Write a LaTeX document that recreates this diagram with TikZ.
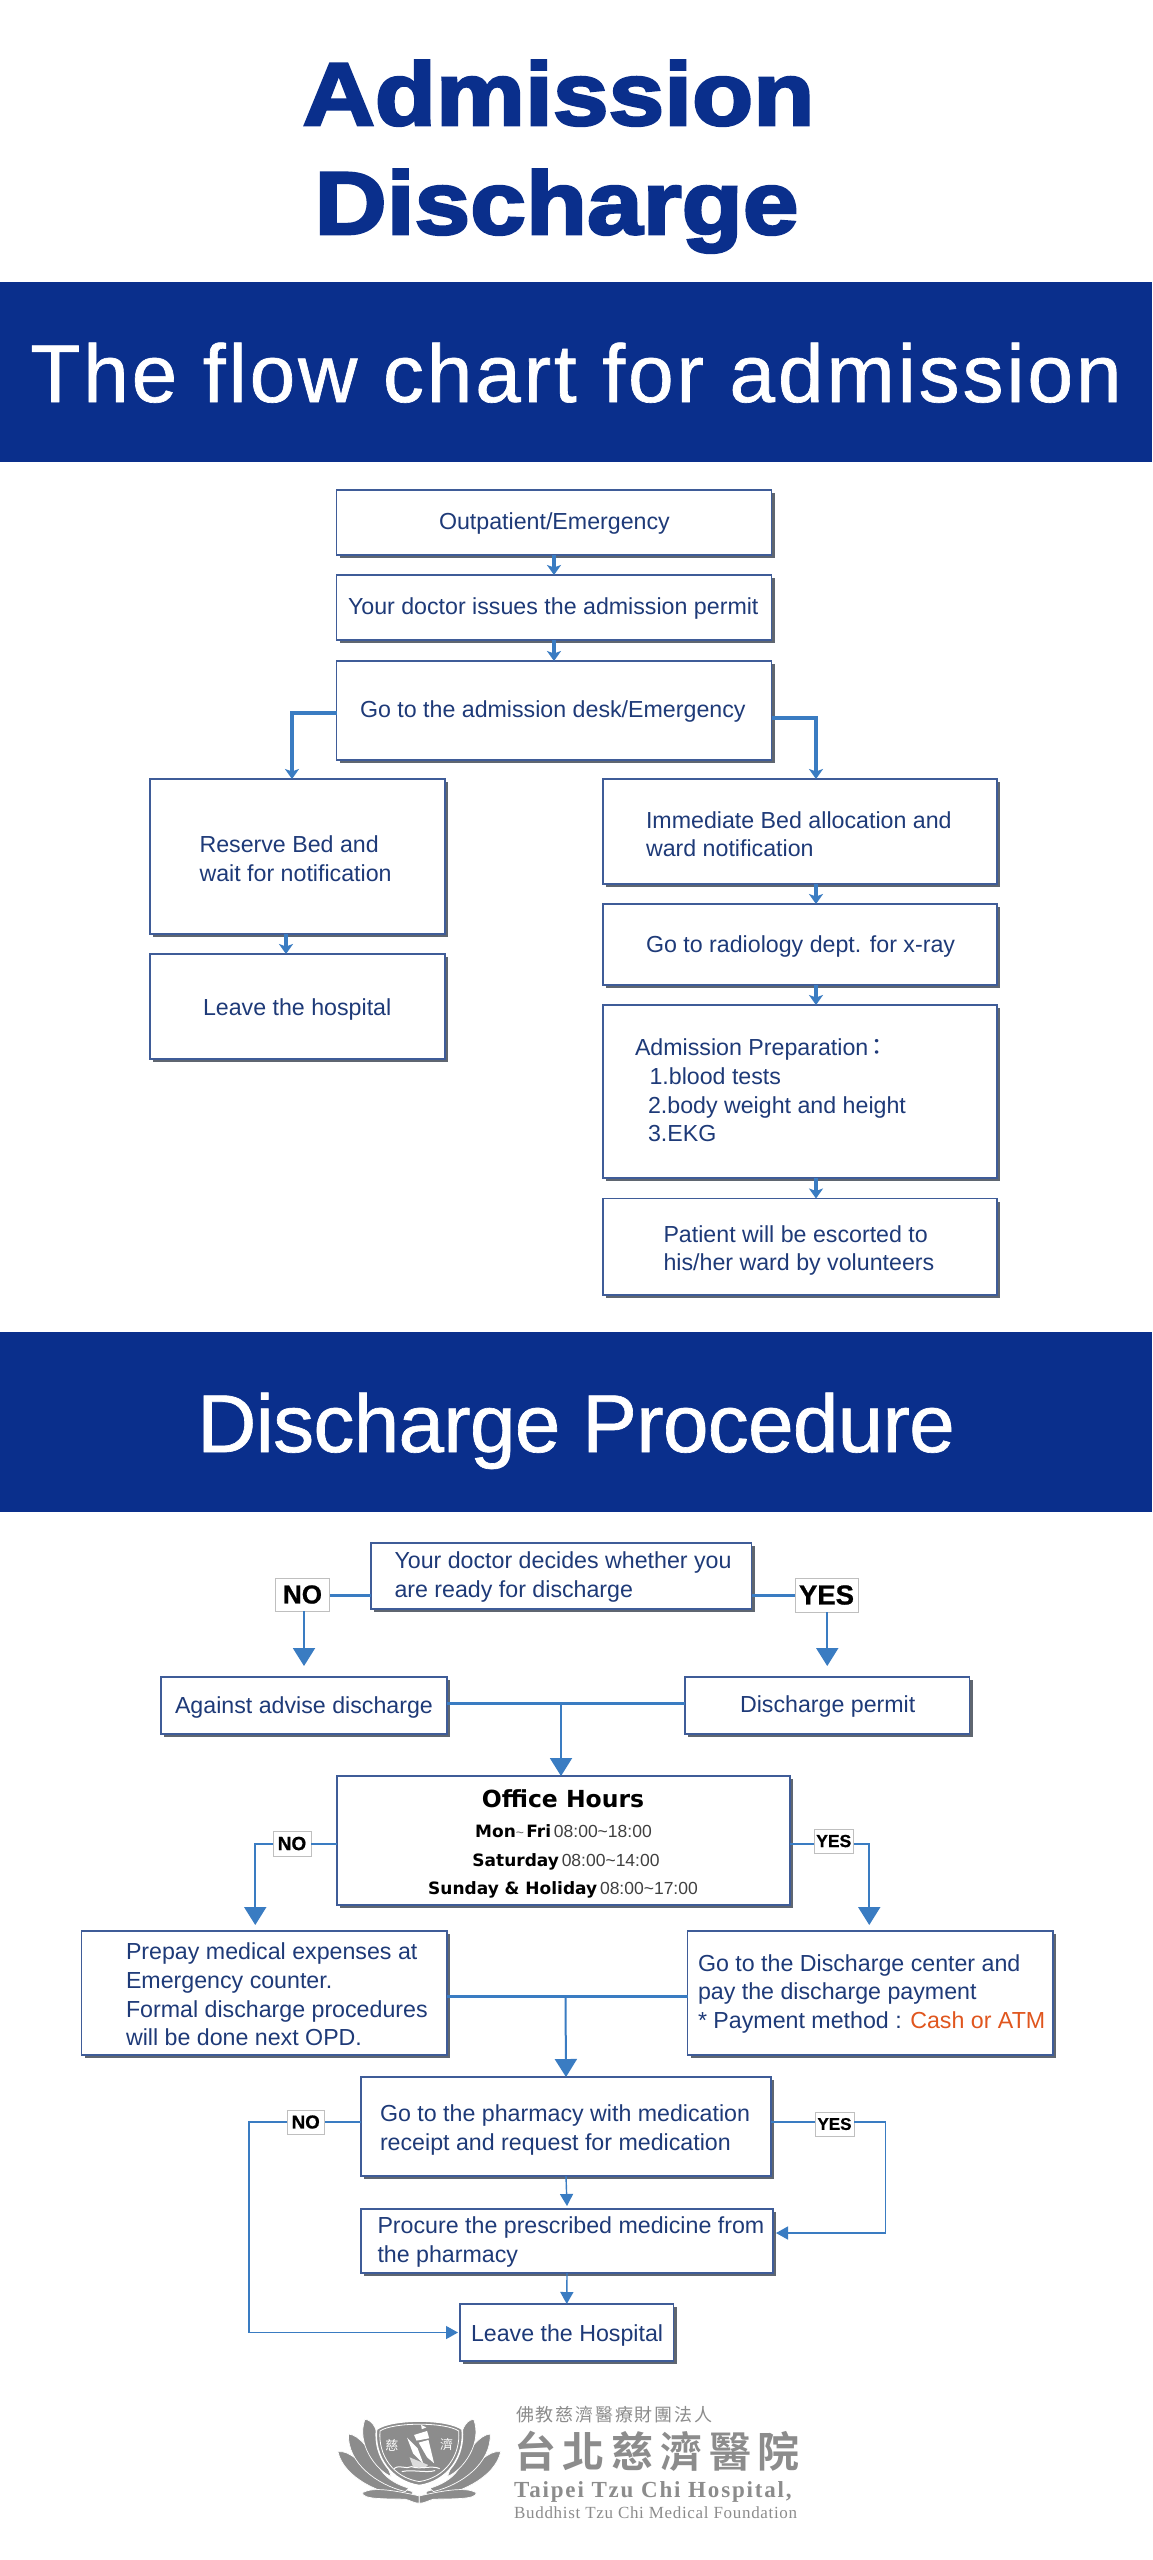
\documentclass[tikz,border=0pt]{standalone}
\usepackage{fontspec}
\usetikzlibrary{arrows.meta,shadows,calc}
\setmainfont{Liberation Sans}
\newfontfamily\titlef[UprightFont=* Bold,FakeBold=3,FakeStretch=1.125]{Liberation Sans}
\newfontfamily\banf[LetterSpace=3.5,FakeBold=0.8]{Liberation Sans}
\newfontfamily\banftwo[LetterSpace=-0.9,FakeBold=0.8]{Liberation Sans}
\newfontfamily\gothb{DejaVu Sans Bold}
\newfontfamily\tagf[UprightFont=* Bold,FakeBold=0.8]{Liberation Sans}
\newfontfamily\cjk{Noto Sans CJK TC}
\newfontfamily\cjks[LetterSpace=10]{Noto Sans CJK TC}
\newfontfamily\cjkb[LetterSpace=16,UprightFont=* Bold]{Noto Sans CJK TC}
\newfontfamily\serb[UprightFont=* Bold,LetterSpace=8]{Liberation Serif}
\newfontfamily\serr[LetterSpace=4]{Liberation Serif}
\definecolor{banblue}{HTML}{0A2F8C}
\definecolor{navy}{HTML}{1E3A78}
\definecolor{arrowblue}{HTML}{3A7CC2}
\definecolor{boxline}{HTML}{3F5C98}
\definecolor{shadowgray}{HTML}{5F6670}
\definecolor{logogray}{HTML}{8C8C8C}
\definecolor{cashred}{HTML}{E0561E}
\tikzset{
 boxs/.style={draw=boxline,line width=1.1pt,fill=white,inner sep=0pt,outer sep=0pt,
   drop shadow={shadow xshift=3pt,shadow yshift=-3pt,fill=shadowgray,opacity=1}},
 txt/.style={inner sep=0pt,outer sep=0pt,anchor=base west,text=navy,font=\fontsize{23.2}{28}\selectfont},
 banner/.style={fill=banblue,text=white,inner sep=0pt,minimum width=1152pt,minimum height=180pt,
   text height=60pt,text depth=0pt,font=\banf\fontsize{82}{90}\selectfont},
 tagbox/.style={draw=black!25,line width=0.8pt,fill=white,inner sep=0pt,outer sep=0pt,text=black},
 thick arrow/.style={draw=arrowblue,line width=3.2pt,-{Stealth[length=10pt,width=14pt,inset=2.5pt]}},
 mid arrow/.style={draw=arrowblue,line width=2pt,-{Triangle[length=18pt,width=22pt]}},
 thin arrow/.style={draw=arrowblue,line width=1.4pt,-{Triangle[length=12pt,width=13pt]}},
 midline/.style={draw=arrowblue,line width=3pt},
 thinline/.style={draw=arrowblue,line width=1.4pt},
 hours/.style={inner sep=0pt,outer sep=0pt,anchor=base,text=black},
 petal/.style={fill=logogray,draw=white,line width=0.7pt},
}
\newcommand{\bx}[5]{%
 \pgfmathsetmacro{\cxx}{(#2+#4)/2}\pgfmathsetmacro{\cyy}{(#3+#5)/2}%
 \pgfmathsetmacro{\ww}{#4-#2}\pgfmathsetmacro{\hh}{#5-#3}%
 \node[boxs,minimum width=\ww pt,minimum height=\hh pt] (#1) at (\cxx,\cyy) {};}
\newcommand{\tx}[4]{\node[txt] (#1) at (#2,#3) {#4};}
\newcommand{\tg}[7]{%
 \pgfmathsetmacro{\cxx}{(#2+#4)/2}\pgfmathsetmacro{\cyy}{(#3+#5)/2}%
 \pgfmathsetmacro{\ww}{#4-#2}\pgfmathsetmacro{\hh}{#5-#3}%
 \node[tagbox,minimum width=\ww pt,minimum height=\hh pt,font=\tagf\fontsize{#6}{#6}\selectfont] (#1) at (\cxx,\cyy) {#7};}
\begin{document}
\begin{tikzpicture}[x=1pt,y=-1pt]
\useasboundingbox (0,0) rectangle (1152,2560);
\fill[white] (0,0) rectangle (1152,2560);
% title
\node[inner sep=0pt,anchor=base,text=banblue,font=\titlef\fontsize{89}{90}\selectfont] (t1) at (558.5,125) {Admission};
\node[inner sep=0pt,anchor=base,text=banblue,font=\titlef\fontsize{89}{90}\selectfont] (t2) at (556.5,234) {Discharge};
\node[banner] (ban1) at (576,372) {The flow chart for admission};
\node[banner,font=\banftwo\fontsize{82}{90}\selectfont] (ban2) at (576,1422) {Discharge Procedure};
% admission boxes
\bx{a1}{336.5}{490}{771.5}{555}
\bx{a2}{336.5}{575}{771.5}{640}
\bx{a3}{336.5}{661}{771.5}{760}
\bx{rb}{150}{779}{445}{934}
\bx{lv}{150}{954}{445}{1059}
\bx{im}{603}{779}{997}{884}
\bx{rad}{603}{904}{997}{985}
\bx{prep}{603}{1005}{997}{1178}
\bx{pat}{603}{1198.5}{997}{1295}
\tx{ta1}{439}{529}{Outpatient/Emergency}
\tx{ta2}{348}{614}{Your doctor issues the admission permit}
\tx{ta3}{360}{717}{Go to the admission desk/Emergency}
\tx{trb1}{199.5}{852}{Reserve Bed and}
\tx{trb2}{199.5}{881}{wait for notification}
\tx{tlv}{203}{1015}{Leave the hospital}
\tx{tim1}{646}{828}{Immediate Bed allocation and}
\tx{tim2}{646}{856}{ward notification}
\tx{trad}{646}{952}{Go to radiology dept. for x-ray}
\tx{tp0}{635}{1055}{Admission Preparation\hspace{-3pt}{\cjk：}}
\tx{tp1}{649.5}{1084.5}{1.blood tests}
\tx{tp2}{648}{1113}{2.body weight and height}
\tx{tp3}{648}{1141}{3.EKG}
\tx{tpa1}{663.5}{1242}{Patient will be escorted to}
\tx{tpa2}{663.5}{1270.5}{his/her ward by volunteers}
\draw[thick arrow] (a1.south) -- (a2.north);
\draw[thick arrow] (a2.south) -- (a3.north);
\draw[thick arrow] ([yshift=-2.5pt]a3.west) -| ([xshift=-5.5pt]rb.north);
\draw[thick arrow] ([yshift=-7.5pt]a3.east) -| ([xshift=16pt]im.north);
\draw[thick arrow] ([xshift=-11.5pt]rb.south) -- ([xshift=-11.5pt]lv.north);
\draw[thick arrow] ([xshift=16pt]im.south) -- ([xshift=16pt]rad.north);
\draw[thick arrow] ([xshift=16pt]rad.south) -- ([xshift=16pt]prep.north);
\draw[thick arrow] ([xshift=16pt]prep.south) -- ([xshift=16pt]pat.north);
% discharge boxes
\bx{d}{371}{1543}{751.5}{1609}
\bx{ag}{161}{1677}{447}{1734}
\bx{pm}{685}{1677}{969.5}{1734}
\bx{of}{337}{1776}{790}{1905}
\bx{pp}{81.5}{1931}{447}{2055}
\bx{gd}{687.5}{1931}{1053}{2055}
\bx{ph}{361}{2077}{771}{2176}
\bx{pc}{361}{2209}{773}{2273}
\bx{lh}{460}{2304}{673.5}{2361}
\tx{td1}{394.5}{1568}{Your doctor decides whether you}
\tx{td2}{394.5}{1597}{are ready for discharge}
\tx{tag}{175}{1713}{Against advise discharge}
\tx{tpm}{740}{1712}{Discharge permit}
\tx{tpp1}{126}{1959}{Prepay medical expenses at}
\tx{tpp2}{126}{1988}{Emergency counter.}
\tx{tpp3}{126}{2017}{Formal discharge procedures}
\tx{tpp4}{126}{2045}{will be done next OPD.}
\tx{tgd1}{698}{1971}{Go to the Discharge center and}
\tx{tgd2}{698}{1999}{pay the discharge payment}
\tx{tgd3}{698}{2028}{* Payment method : {\color{cashred}Cash or ATM}}
\tx{tph1}{380}{2121}{Go to the pharmacy with medication}
\tx{tph2}{380}{2150}{receipt and request for medication}
\tx{tpc1}{377.5}{2233}{Procure the prescribed medicine from}
\tx{tpc2}{377.5}{2262}{the pharmacy}
\tx{tlh}{471}{2341}{Leave the Hospital}
\node[hours,font=\gothb\fontsize{23.5}{24}\selectfont] (oh) at (563,1807) {Office Hours};
\node[hours] (oh1) at (563.5,1837) {{\gothb\fontsize{17}{18}\selectfont Mon}{\fontsize{14}{18}\selectfont\color{black!60}\textasciitilde\,}{\gothb\fontsize{17}{18}\selectfont Fri} {\fontsize{17.5}{18}\selectfont\color{black!75}08:00\textasciitilde18:00}};
\node[hours] (oh2) at (566,1866) {{\gothb\fontsize{17}{18}\selectfont Saturday} {\fontsize{17.5}{18}\selectfont\color{black!75}08:00\textasciitilde14:00}};
\node[hours] (oh3) at (563,1894) {{\gothb\fontsize{17}{18}\selectfont Sunday \& Holiday} {\fontsize{17.5}{18}\selectfont\color{black!75}08:00\textasciitilde17:00}};
% tags
\tg{n1}{275.5}{1578}{329.5}{1611}{26}{NO}
\tg{n2}{273}{1831}{311}{1856}{19}{NO}
\tg{n3}{287}{2110}{324.5}{2134}{18.7}{NO}
\tg{y1}{795}{1578}{858}{1612}{27.5}{YES}
\tg{y2}{814}{1829}{853.5}{1853}{17.5}{YES}
\tg{y3}{815}{2112}{854}{2136}{17}{YES}
% connectors
\coordinate (j1) at (561,1703);
\coordinate (j2) at (565.5,1996);
\coordinate (c1) at (249,2122);
\coordinate (c2) at (885.5,2122);
\coordinate (dl) at ([yshift=-19pt]d.west);
\coordinate (dr) at ([yshift=-19pt]d.east);
\coordinate (ol) at ([yshift=-3.5pt]of.west);
\coordinate (or) at ([yshift=-3.5pt]of.east);
\coordinate (pl) at ([yshift=4.5pt]ph.west);
\coordinate (pr) at ([yshift=4.5pt]ph.east);
\draw[midline] (dl) -- (dl -| n1.east);
\draw[midline] (dr) -- (dr -| y1.west);
\draw[mid arrow] (n1.south -| ag.north) -- ([yshift=11pt]ag.north);
\draw[mid arrow] (y1.south -| pm.north) -- ([yshift=11pt]pm.north);
\draw[midline] ([yshift=2.5pt]ag.east) -- ([yshift=2.5pt]pm.west);
\draw[mid arrow] (j1) -- (j1 |- of.north);
\draw[midline,line width=2.5pt] (ol) -- (ol -| n2.east);
\draw[mid arrow] (ol -| n2.west) -| ([xshift=-9pt,yshift=6pt]pp.north);
\draw[midline,line width=2.5pt] (or) -- (or -| y2.west);
\draw[mid arrow] (or -| y2.east) -| ([xshift=-1pt,yshift=6pt]gd.north);
\draw[midline] ([yshift=-3pt]pp.east) -- ([yshift=-3pt]gd.west);
\draw[mid arrow] (j2) -- (ph.north);
\draw[thinline] (pl) -- (pl -| n3.east);
\draw[thin arrow] (pl -| n3.west) -- (c1) |- ([xshift=-2pt]lh.west);
\draw[thinline] (pr) -- (pr -| y3.west);
\draw[thin arrow] (pr -| y3.east) -- (c2) |- ([xshift=3pt,yshift=8pt]pc.east);
\draw[thin arrow] (ph.south) -- ([yshift=3pt]pc.north);
\draw[thin arrow] (pc.south) -- (lh.north);
% logo
\begin{scope}[shift={(300,2370)},x=0.351pt,y=-0.333pt]
\begin{scope}[shift={(340,0)}]
\foreach \s in {1,-1}{
\begin{scope}[xscale=\s]
\path[petal] (-232,245) .. controls (-195,240) and (-165,285) .. (-120,320) .. controls (-85,345) and (-50,355) .. (-20,365) -- (-20,385) .. controls (-110,375) and (-215,325) .. (-232,245) -- cycle;
\path[petal] (-202,192) .. controls (-170,195) and (-140,240) .. (-110,300) .. controls (-90,330) and (-60,345) .. (-30,355) -- (-40,365) .. controls (-120,345) and (-205,280) .. (-202,192) -- cycle;
\path[petal] (-155,148) .. controls (-130,150) and (-118,185) .. (-115,220) -- (-80,320) .. controls (-125,300) and (-180,220) .. (-155,148) -- cycle;
\path[petal] (-162,368) .. controls (-130,350) and (-70,362) .. (0,378) -- (0,400) .. controls (-15,400) and (-25,392) .. (-40,388) .. controls (-90,386) and (-165,390) .. (-162,368) -- cycle;
\end{scope}
}
\path[fill=logogray,draw=white,line width=1.6pt] (-122,178) .. controls (-80,145) and (80,145) .. (122,178) .. controls (130,260) and (80,335) .. (0,347) .. controls (-80,335) and (-130,260) .. (-122,178) -- cycle;
\path[fill=logogray,draw=white,line width=0.8pt] (-112,183) .. controls (-75,156) and (75,156) .. (112,183) .. controls (118,255) and (75,323) .. (0,335) .. controls (-75,323) and (-118,255) .. (-112,183) -- cycle;
\end{scope}
% ship
\fill[white] (345,165) -- (360,172) -- (347,178) -- cycle;
\fill[white] (325,195) -- (362,183) -- (368,205) -- (332,212) -- cycle;
\fill[white] (338,218) -- (366,210) -- (382,280) -- (362,262) -- cycle;
\fill[white] (305,203) -- (335,235) -- (352,282) -- (322,250) -- cycle;
\fill[white!70!logogray] (312,262) -- (365,285) -- (355,295) -- (322,290) -- cycle;
\draw[white,line width=1pt] (268,296) .. controls (285,282) and (300,300) .. (318,290) .. controls (340,300) and (375,285) .. (398,296);
\draw[white,line width=1pt] (290,305) .. controls (320,298) and (360,310) .. (385,302);
\node[inner sep=0pt,text=white,font=\cjk\fontsize{13}{13}\selectfont] (lg1) at (262,225) {慈};
\node[inner sep=0pt,text=white,font=\cjk\fontsize{13}{13}\selectfont] (lg2) at (418,225) {濟};
\end{scope}
\node[inner sep=0pt,anchor=base west,text=logogray,font=\cjks\fontsize{18}{18}\selectfont] (l1) at (516,2421) {佛教慈濟醫療財團法人};
\node[inner sep=0pt,anchor=base west,text=logogray,font=\cjkb\fontsize{42}{42}\selectfont] (l2) at (514,2467) {台北慈濟醫院};
\node[inner sep=0pt,anchor=base west,text=logogray,font=\serb\fontsize{23}{24}\selectfont] (l3) at (514,2497) {Taipei Tzu Chi Hospital,};
\node[inner sep=0pt,anchor=base west,text=logogray,font=\serr\fontsize{17}{18}\selectfont] (l4) at (514,2518) {Buddhist Tzu Chi Medical Foundation};
\end{tikzpicture}
\end{document}
